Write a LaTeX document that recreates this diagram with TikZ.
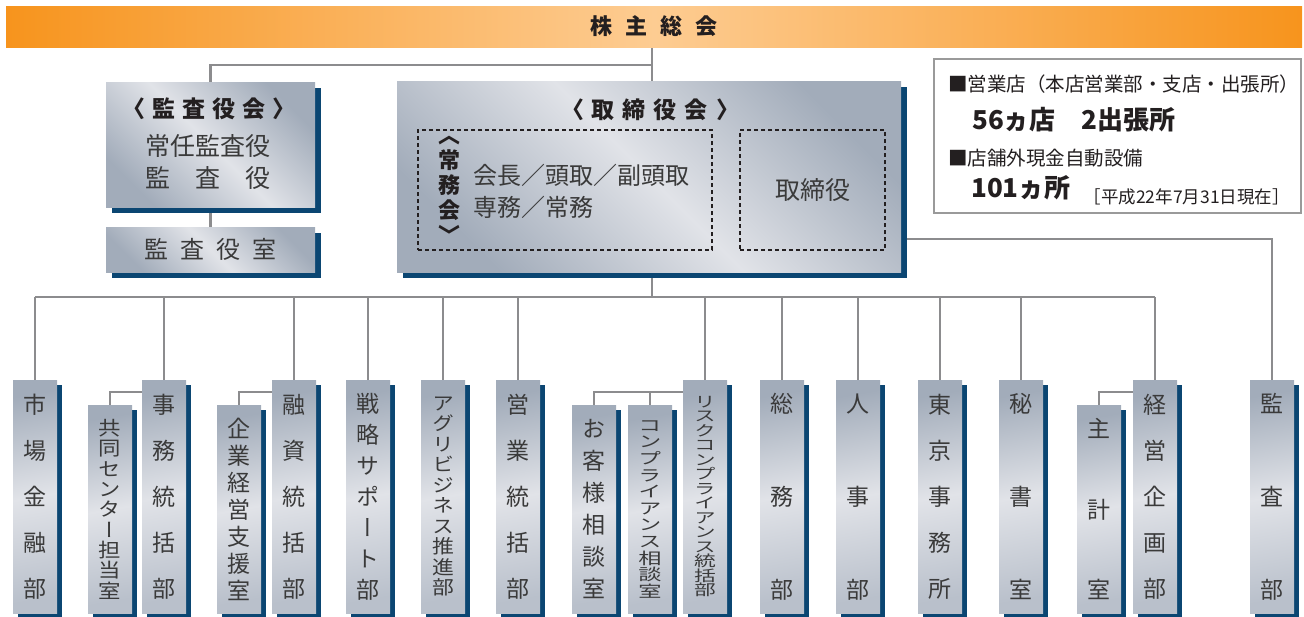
\documentclass[tikz,border=0pt]{standalone}
\usepackage{fontspec}
\setmainfont{Noto Sans CJK JP}
\newfontfamily\vfont[RawFeature=+vert]{Noto Sans CJK JP}
\newfontfamily\vslim[RawFeature=+vert,FakeStretch=1.15]{Noto Sans CJK JP}
\newfontfamily\vnarrow[RawFeature=+vert,FakeStretch=1.45]{Noto Sans CJK JP}
\usetikzlibrary{shadows,backgrounds}

\definecolor{boxdark}{HTML}{A2ACBA}
\definecolor{boxlight}{HTML}{E1E3E8}
\definecolor{boxmid}{HTML}{B9C0CB}
\definecolor{shadownavy}{HTML}{0B4672}
\definecolor{linegray}{HTML}{8C8C8E}
\definecolor{bannerorange}{HTML}{F7941D}
\definecolor{bannerpeach}{HTML}{FDCC92}
\definecolor{txtgray}{HTML}{3A3A3A}
\definecolor{txtdark}{HTML}{231F20}
\definecolor{infogray}{HTML}{9A9A9A}

% vertical stacks: family, size, pitch
\newcommand\vpitch[3]{#1\fontsize{#2}{#3}\selectfont\lineskiplimit=-100pt\relax}

\tikzset{
	conn/.style={draw=linegray, line width=2.2pt},
	banner/.style={minimum width=1296pt, minimum height=41pt, inner sep=0pt, left color=bannerorange, right color=bannerorange, middle color=bannerpeach, text=txtdark, font=\bfseries\fontsize{22}{22}\selectfont},
	panel/.style={inner sep=0pt, left color=boxdark, right color=boxdark, middle color=boxlight, shading angle=135, general shadow={fill=shadownavy, shadow xshift=6pt, shadow yshift=-6pt}},
	head/.style={inner sep=0pt, text=txtdark, font=\bfseries\fontsize{23}{23}\selectfont},
	body/.style={inner sep=0pt, text=txtgray, font=\fontsize{25}{31.5}\selectfont},
	dashbox/.style={draw=txtdark, dash pattern=on 4pt off 3pt, line width=1.1pt, inner sep=0pt},
	dept/.style={anchor=north, minimum width=44pt, minimum height=233pt, inner sep=0pt, align=center, text=txtgray, top color=boxdark, bottom color=boxmid, middle color=boxlight, shading angle=10, general shadow={fill=shadownavy, shadow xshift=5pt, shadow yshift=-5pt}},
	subdept/.style={dept, minimum height=208pt},
	infobox/.style={draw=infogray, line width=1.2pt, fill=white, inner sep=0pt},
	note/.style={inner sep=0pt, text=txtdark, font=\fontsize{19.5}{19.5}\selectfont},
}

\begin{document}
\begin{tikzpicture}[x=1pt, y=-1pt]
		%%%%% START %%%%%
		\useasboundingbox (0,0) rectangle (1304,616);
		
		\node[banner] (soukai) at (654,26.5) {株\hspace{13pt}主\hspace{13pt}総\hspace{13pt}会};
		
		% auditors
		\node[panel, minimum width=209pt, minimum height=125pt] (kansakai) at (210.5,144.5) {};
		\node[head] (kansakaititle) at (209,109) {〈\hspace{7pt}監\hspace{7pt}査\hspace{7pt}役\hspace{7pt}会\hspace{7pt}〉};
		\node[body, align=center] (kansakaimembers) at (208,162) {常任監査役\\監　査　役};
		\node[panel, minimum width=209pt, minimum height=45pt, text=txtgray, font=\fontsize{24}{24}\selectfont] (kansashitsu) at (210.5,249.5) {監\hspace{12pt}査\hspace{12pt}役\hspace{12pt}室};
		
		% board
		\node[panel, minimum width=504pt, minimum height=191pt] (torikai) at (649,176.5) {};
		\node[head] (torikaititle) at (650,110) {〈\hspace{8pt}取\hspace{8pt}締\hspace{8pt}役\hspace{8pt}会\hspace{8pt}〉};
		\node[dashbox, minimum width=294pt, minimum height=120pt] (jomukai) at (565,190) {};
		\node[dashbox, minimum width=145pt, minimum height=120pt, text=txtgray, font=\fontsize{25}{25}\selectfont] (torishimari) at (812.5,190) {取締役};
		\node[inner sep=0pt, align=center, text=txtdark, font={\vpitch\vfont{22}{25}\bfseries}] (jomukaiv) at (449,190) {︿\\常\\務\\会\\﹀};
		\node[body, anchor=west, align=left, font=\fontsize{24}{32}\selectfont] (jomumembers) at (473,191) {会長／頭取／副頭取\\専務／常務};
		
		% branches
		\node[infobox, minimum width=367pt, minimum height=154pt] (tenpo) at (1117.5,136) {};
		\node[note, anchor=west] (eigyoten) at (948,84.5) {■営業店（本店営業部・支店・出張所）};
		\node[note, anchor=west, font=\bfseries\fontsize{26}{26}\selectfont] (tensu) at (972,120) {56ヵ店　2出張所};
		\node[note, anchor=west] (setsubi) at (948,158) {■店舗外現金自動設備};
		\node[note, anchor=west, font=\bfseries\fontsize{26}{26}\selectfont] (shosu) at (971,188) {101ヵ所};
		\node[note, anchor=east, font=\fontsize{17.5}{17.5}\selectfont] (genzai) at (1290,196.5) {［平成22年7月31日現在］};
		
		% departments
		\node[dept, font={\vpitch\vfont{23}{46}}] (ichiba) at (35,380) {市\\場\\金\\融\\部};
		\node[subdept, font={\vpitch\vslim{19.5}{20.3}}] (kyodo) at (110,405) {共\\同\\セ\\ン\\タ\\ー\\担\\当\\室};
		\node[dept, font={\vpitch\vfont{23}{46}}] (jimu) at (164,380) {事\\務\\統\\括\\部};
		\node[subdept, font={\vpitch\vfont{23}{27}}] (kigyo) at (239,405) {企\\業\\経\\営\\支\\援\\室};
		\node[dept, font={\vpitch\vfont{23}{46}}] (yushi) at (294,380) {融\\資\\統\\括\\部};
		\node[dept, font={\vpitch\vfont{23}{31}}] (senryaku) at (368,380) {戦\\略\\サ\\ポ\\ー\\ト\\部};
		\node[dept, font={\vpitch\vslim{19}{20.5}}] (agri) at (443,380) {ア\\グ\\リ\\ビ\\ジ\\ネ\\ス\\推\\進\\部};
		\node[dept, font={\vpitch\vfont{23}{46}}] (eigyo) at (518,380) {営\\業\\統\\括\\部};
		\node[subdept, font={\vpitch\vfont{23}{32}}] (okyaku) at (594,405) {お\\客\\様\\相\\談\\室};
		\node[subdept, font={\vpitch\vnarrow{16}{16.6}}] (compsodan) at (650,405) {コ\\ン\\プ\\ラ\\イ\\ア\\ン\\ス\\相\\談\\室};
		\node[dept, font={\vpitch\vnarrow{15}{14.5}}] (risk) at (705,380) {リ\\ス\\ク\\コ\\ン\\プ\\ラ\\イ\\ア\\ン\\ス\\統\\括\\部};
		\node[dept, font={\vpitch\vfont{23}{93}}] (somu) at (782,380) {総\\務\\部};
		\node[dept, font={\vpitch\vfont{23}{93}}] (jinji) at (858,380) {人\\事\\部};
		\node[dept, font={\vpitch\vfont{23}{46}}] (tokyo) at (940,380) {東\\京\\事\\務\\所};
		\node[dept, font={\vpitch\vfont{23}{93}}] (hisho) at (1021,380) {秘\\書\\室};
		\node[subdept, font={\vpitch\vfont{23}{80.5}}] (shukei) at (1099,405) {主\\計\\室};
		\node[dept, font={\vpitch\vfont{23}{46}}] (keiei) at (1155,380) {経\\営\\企\\画\\部};
		\node[dept, font={\vpitch\vfont{23}{93}}] (kansabu) at (1272,380) {監\\査\\部};
		
		\coordinate (trunk) at (652,65);
		\coordinate (bus) at (652,297);
		\coordinate (kbturn) at (1272,239);
		
		\begin{scope}[on background layer]
		\draw[conn] (soukai.south -| trunk) -- (trunk |- torikai.north);
		\draw[conn] (trunk) -| (kansakai.north);
		\draw[conn] (kansakai.south) -- (kansashitsu.north);
		\draw[conn] (trunk |- torikai.south) -- (bus);
		\draw[conn] (ichiba.north |- bus) -- (keiei.north |- bus);
		\draw[conn] (torikai.east |- kbturn) -- (kbturn) -- (kansabu.north);
		
		\draw[conn] (ichiba.north |- bus) -- (ichiba.north);
		\draw[conn] (jimu.north |- bus) -- (jimu.north);
		\draw[conn] (yushi.north |- bus) -- (yushi.north);
		\draw[conn] (senryaku.north |- bus) -- (senryaku.north);
		\draw[conn] (agri.north |- bus) -- (agri.north);
		\draw[conn] (eigyo.north |- bus) -- (eigyo.north);
		\draw[conn] (risk.north |- bus) -- (risk.north);
		\draw[conn] (somu.north |- bus) -- (somu.north);
		\draw[conn] (jinji.north |- bus) -- (jinji.north);
		\draw[conn] (tokyo.north |- bus) -- (tokyo.north);
		\draw[conn] (hisho.north |- bus) -- (hisho.north);
		\draw[conn] (keiei.north |- bus) -- (keiei.north);
		
		\draw[conn] (jimu.north west) ++(0,12) -| (kyodo.north);
		\draw[conn] (yushi.north west) ++(0,12) -| (kigyo.north);
		\draw[conn] (risk.north west) ++(0,12) -| (okyaku.north);
		\draw[conn] (compsodan.north) -- ++(0,-13);
		\draw[conn] (keiei.north west) ++(0,12) -| (shukei.north);
		\end{scope}
		
		%%%%% END %%%%%
\end{tikzpicture}
\end{document}
